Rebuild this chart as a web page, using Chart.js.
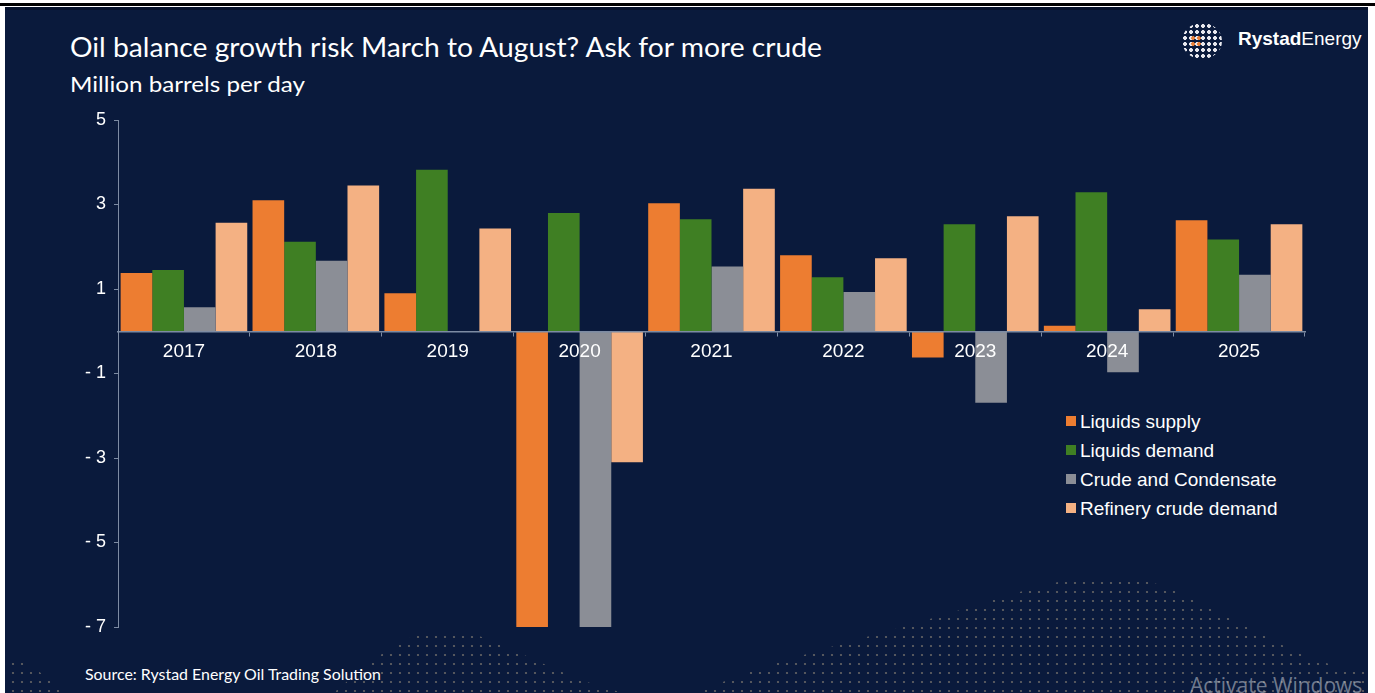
<!DOCTYPE html>
<html>
<head>
<meta charset="utf-8">
<script src="https://cdn.jsdelivr.net/npm/chart.js@4.4.1/dist/chart.umd.min.js"></script>
<style>
  html, body { margin: 0; padding: 0; background: #fff; }
  body { width: 1375px; height: 693px; position: relative; overflow: hidden; }
  .topline { position: absolute; left: 0; top: 3px; width: 1375px; height: 3px; background: #000; }
  .panel { position: absolute; left: 5px; top: 7px; width: 1363px; height: 686px; background: #0a1a3c; border-top: 3px solid #07132d; box-sizing: border-box; overflow: hidden; }
  .panel svg { position: absolute; left: 0; top: 0; }
  .fit { position: absolute; white-space: nowrap; transform-origin: 0 0; color: #fff; font-family: Lato, "Open Sans", sans-serif; }
  .title { left: 70px; top: 31px; font-size: 26px; }
  .subtitle { left: 70px; top: 71px; font-size: 21px; }
  .source { left: 85px; top: 665px; font-size: 15px; }
  .logo { position: absolute; left: 1238px; top: 28px; color: #fff; font-family: "Liberation Sans", Arial, sans-serif; font-size: 19px; white-space: nowrap; }
  .globe { position: absolute; left: 1182px; top: 23px; width: 40px; height: 36px; border-radius: 50%;
    background: radial-gradient(circle, #e8e8ee 1.6px, transparent 2.2px) 0 0 / 6px 6px; }
  .globe::after { content: ""; position: absolute; left: 8px; top: 12px; width: 12px; height: 12px; border-radius: 50%;
    background: radial-gradient(circle, #e8803a 1.6px, transparent 2.2px) 0 0 / 6px 6px; }
  .legend { position: absolute; left: 1066px; top: 409px; font-family: "Liberation Sans", Arial, sans-serif; font-size: 19px; color: #fff; }
  .legend div { height: 29px; line-height: 26px; white-space: nowrap; }
  .legend span { display: inline-block; width: 10px; height: 10px; margin-right: 4px; vertical-align: 2px; }
  .watermark { position: absolute; left: 1190px; top: 671px; color: rgba(200,205,215,0.55); font-family: "Open Sans", sans-serif; font-size: 21px; white-space: nowrap; }
  canvas { position: absolute; left: 0; top: 0; }
</style>
</head>
<body>
<div class="topline"></div>
<div class="panel">
  <svg width="1363" height="686" viewBox="5 7 1363 686">
    <defs>
      <pattern id="dots" width="9" height="9" patternUnits="userSpaceOnUse">
        <circle cx="4" cy="4" r="1.1" fill="rgba(215,190,150,0.45)"></circle>
      </pattern>
    </defs>
    <path d="M0,693 L0,650 C30,655 50,680 70,693 Z" fill="url(#dots)"></path>
    <path d="M330,693 C380,650 410,625 450,627 C500,630 560,680 640,693 Z" fill="url(#dots)"></path>
    <path d="M690,693 C760,660 850,640 950,610 C1030,585 1080,570 1120,573 C1180,578 1250,630 1310,655 C1340,665 1360,668 1375,668 L1375,693 Z" fill="url(#dots)"></path>
  </svg>
</div>
<div class="fit title" data-w="752">Oil balance growth risk March to August? Ask for more crude</div>
<div class="fit subtitle" data-w="235">Million barrels per day</div>
<div class="globe"></div>
<div class="logo"><b>Rystad</b>Energy</div>
<div class="legend" id="legend"></div>
<div class="fit source" data-w="296">Source: Rystad Energy Oil Trading Solution</div>
<div class="watermark">Activate Windows</div>
<canvas id="chart" width="1375" height="693"></canvas>
<script>
// categorias y series (millones de barriles por dia)
const years = ['2017', '2018', '2019', '2020', '2021', '2022', '2023', '2024', '2025'];
const seriesNames = ['Liquids supply', 'Liquids demand', 'Crude and Condensate', 'Refinery crude demand'];
const seriesColors = ['#ed7d31', '#3f7f23', '#8b8e96', '#f4b183'];

const liquidsSupply = [1.38, 3.10, 0.90, -7.00, 3.03, 1.80, -0.62, 0.13, 2.63];
const liquidsDemand = [1.45, 2.12, 3.82, 2.80, 2.65, 1.28, 2.53, 3.29, 2.17];
const crudeCondensate = [0.57, 1.67, 0, -7.00, 1.53, 0.93, -1.69, -0.97, 1.34];
const refineryDemand = [2.57, 3.45, 2.43, -3.10, 3.37, 1.73, 2.72, 0.52, 2.53];

const yTicks = [-7, -5, -3, -1, 1, 3, 5];

const allSeries = [liquidsSupply, liquidsDemand, crudeCondensate, refineryDemand];

// ajustar el ancho de los textos al de la imagen
document.querySelectorAll('.fit').forEach(el => {
    const w = el.getBoundingClientRect().width;
    el.style.transform = 'scaleX(' + (Number(el.dataset.w) / w) + ')';
});

const datasets = allSeries.map((data, i) => ({
    label: seriesNames[i],
    data: data,
    backgroundColor: seriesColors[i],
    borderWidth: 0,
    categoryPercentage: 0.96,
    barPercentage: 1
}));

// leyenda en html
const legend = document.getElementById('legend');
seriesNames.forEach((name, i) => {
    const row = document.createElement('div');
    row.innerHTML = '<span style="background:' + seriesColors[i] + '"></span>' + name;
    legend.appendChild(row);
});

const axisColor = '#7d8ba3';

const myChart = new Chart(document.getElementById('chart'), {
    type: 'bar',
    data: { labels: years, datasets: datasets },
    options: {
        responsive: false,
        animation: false,
        layout: { padding: { left: 78, right: 70, top: 120, bottom: 66 } },
        plugins: { legend: { display: false }, tooltip: { enabled: false } },
        scales: {
            x: {
                position: { y: 0 },
                border: { color: axisColor, width: 1.5, z: 1 },
                grid: { offset: true, drawOnChartArea: false, drawTicks: true, tickLength: 4, color: axisColor, z: 1 },
                ticks: { color: '#ffffff', font: { family: 'Liberation Sans, Arial', size: 19 }, padding: 5, z: 1 }
            },
            y: {
                min: -7,
                max: 5,
                afterFit: scale => { scale.width = 40; },
                afterBuildTicks: scale => { scale.ticks = yTicks.map(v => ({ value: v })); },
                border: { color: axisColor, width: 1 },
                grid: { drawOnChartArea: false, drawTicks: true, tickLength: 4, color: axisColor },
                ticks: {
                    color: '#ffffff',
                    font: { family: 'Liberation Sans, Arial', size: 18 },
                    padding: 8,
                    callback: v => v < 0 ? '- ' + Math.abs(v) : String(v)
                }
            }
        }
    }
});
</script>
</body>
</html>
